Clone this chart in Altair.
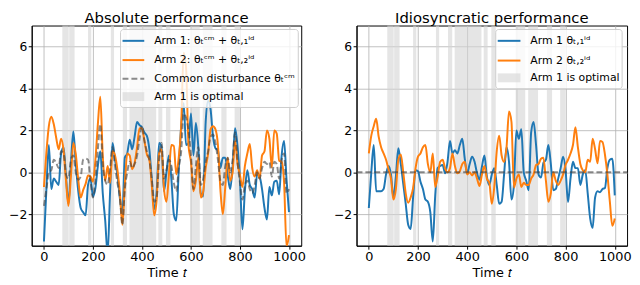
import altair as alt
import pandas as pd

# ---- data (t = 0, 10, ..., 1000) ----
t = list(range(0, 1001, 10))

common = [-1.6, -0.8, 0.0, 0.1, 0.6, 0.45, 0.2, 1.0, 0.9, -0.1,
          -0.3, 0.6, 0.8, 0.0, -0.35, -0.2, 0.6, 0.65, 0.6, -0.4,
          -1.2, -0.3, 1.1, 2.3, 0.4, -0.4, -0.6, 0.2, 1.2, 0.3,
          -0.5, -1.2, -2.5, -0.8, 0.0, 0.5, 0.2, 0.4, 0.8, 1.6,
          2.2, 1.5, 1.0, 0.6, -0.3, -1.4, -1.2, 0.6, 1.4, -0.3,
          0.1, 0.6, 0.3, -0.5, -0.9, 0.2, 1.0, 2.8, 2.6, 2.0,
          0.8, -0.8, 0.3, 1.2, -0.6, -0.3, 0.5, 1.0, 1.7, 1.8,
          1.4, 0.6, -0.4, -0.6, 0.3, 0.7, 0.0, 0.6, 1.9, 0.5,
          -0.5, -1.3, -0.6, -0.4, -0.8, -1.0, -0.6, 0.0, -0.3, 0.2,
          0.5, 0.4, 0.5, -0.2, 0.5, 0.4, -0.3, 0.6, 0.9, -1.0,
          -0.8]

idio1 = [-1.7, 0.0, 1.3, -0.9, -0.9, -0.9, -0.8, -0.1, 0.3, -0.1,
         -1.2, -0.2, 1.15, 0.4, -0.55, -1.5, -2.5, -2.7, -1.2, 0.1,
         0.05, -0.45, -0.8, -1.3, -1.4, -1.9, -3.3, -1.1, 0.2, 0.3,
         0.35, -0.05, 0.5, 1.5, 0.9, 1.05, 0.9, 1.3, 1.6, 0.65,
         -0.05, 0.4, 0.74, 0.5, -0.05, -0.35, 0.28, 0.8, -0.2, -0.6,
         -0.1, 0.2, -0.6, -1.5, -1.4, -0.1, 1.2, 0.5, -1.3, -0.6,
         2.0, 1.6, 2.05, 0.0, -0.4, -0.85, 1.9, 2.4, 1.3, -0.1,
         -0.25, 0.45, 0.6, 1.3, 0.4, -0.85, -0.8, -0.3, 0.2, 0.74,
         0.1, -1.42, -0.3, 0.5, 0.2, 0.2, -0.6, -0.1, 0.1, -1.0,
         -2.2, -2.65, -1.2, -0.9, -0.95, -0.8, -0.75, 0.2, 0.6, 0.65,
         -1.1]

idio2 = [0.9, 1.75, 2.2, 2.55, 1.7, 1.2, 0.9, 0.6, 0.15, -0.3,
         -1.3, -0.8, 0.6, 0.85, 0.0, -1.0, -1.45, -1.2, -0.75, 0.2,
         0.75, 0.9, 1.2, 1.3, 0.4, 0.0, 0.9, -0.7, -0.2, 0.5,
         0.6, 0.2, 0.0, 0.2, 0.9, 0.3, -0.05, 0.05, 0.4, 0.5,
         -0.1, 0.0, -0.15, 0.0, -0.3, -0.65, -0.1, 0.3, -0.3, -0.5,
         -1.5, -0.7, 1.0, 1.75, 0.8, 0.5, 1.2, 2.9, 2.4, -0.73,
         -0.3, -0.1, -0.7, -0.5, -0.6, -0.6, -0.3, -0.1, 0.35, 0.4,
         0.65, 0.7, -0.4, -1.4, -1.0, 0.0, -0.4, -0.6, -0.4, -0.1,
         0.36, 0.6, 0.9, 1.3, 2.15, 1.2, 0.4, 0.1, 0.0, 0.6,
         0.5, 1.6, 1.1, 0.43, 1.5, 1.45, 0.85, -0.1, -1.4, -2.55,
         -2.2]

band_start = [75, 103, 180, 273, 322, 349, 467, 498, 597, 648, 724, 778]
band_end = [101, 125, 193, 286, 339, 458, 483, 516, 636, 688, 745, 800]

x_ticks = [0, 200, 400, 600, 800, 1000]
y_ticks = [-2, 0, 2, 4, 6]

BLUE = "#1f77b4"
ORANGE = "#ff7f0e"
W_LEFT, W_RIGHT, H = 273, 274, 223
FONT = "DejaVu Sans"

arm1_abs = [c + a for c, a in zip(common, idio1)]
arm2_abs = [c + a for c, a in zip(common, idio2)]

xscale = alt.Scale(domain=[-50, 1050], nice=False, zero=False)
yscale = alt.Scale(domain=[-3.5, 7], nice=False, zero=False)
xaxis = alt.Axis(values=x_ticks, title="Time 𝑡", grid=True, format="d")
yaxis = alt.Axis(values=y_ticks, title=None, grid=True, format="d", labelFontSize=12.5)

bands = pd.DataFrame({"start": band_start, "end": band_end})


def band_layer():
    return alt.Chart(bands).mark_rect(fill="#d3d3d3", opacity=0.6).encode(
        x=alt.X("start:Q", scale=xscale, axis=xaxis),
        x2="end:Q",
        y=alt.value(0),
        y2=alt.value(H),
    )


def line_layer(values, color, dash=None, opacity=1.0):
    df = pd.DataFrame({"t": t, "v": values})
    kw = dict(color=color, strokeWidth=2, clip=True, interpolate="monotone", opacity=opacity)
    if dash:
        kw["strokeDash"] = dash
    return alt.Chart(df).mark_line(**kw).encode(
        x=alt.X("t:Q", scale=xscale, axis=xaxis),
        y=alt.Y("v:Q", scale=yscale, axis=yaxis),
    )


one = alt.Data(values=[{}])


def legend(box, entries, handle_x, text_x):
    x0, x1, y0, y1 = box
    layers = [alt.Chart(one).mark_rect(fill="white", fillOpacity=0.8, stroke="#cccccc",
                                      strokeWidth=1, cornerRadius=3).encode(
        x=alt.value(x0), x2=alt.value(x1), y=alt.value(y0), y2=alt.value(y1))]
    for kind, color, label, y in entries:
        if kind == "patch":
            layers.append(alt.Chart(one).mark_rect(fill="#d3d3d3", opacity=0.6).encode(
                x=alt.value(handle_x[0]), x2=alt.value(handle_x[1]),
                y=alt.value(y - 4.5), y2=alt.value(y + 4.5)))
        else:
            kw = dict(color=color, strokeWidth=2)
            if kind == "dash":
                kw["strokeDash"] = [6, 3]
                kw["opacity"] = 0.6
            layers.append(alt.Chart(one).mark_rule(**kw).encode(
                x=alt.value(handle_x[0]), x2=alt.value(handle_x[1]), y=alt.value(y)))
        layers.append(alt.Chart(one).mark_text(text=label, align="left", baseline="middle",
                                               fontSize=11, font=FONT, color="black").encode(
            x=alt.value(text_x), y=alt.value(y)))
    return layers


left_leg = legend((90, 270, 4, 83), [
    ("line", BLUE, "Arm 1: θₜᶜᵐ + θₜ,₁ⁱᵈ", 15.5),
    ("line", ORANGE, "Arm 2: θₜᶜᵐ + θₜ,₂ⁱᵈ", 35),
    ("dash", "#404040", "Common disturbance θₜᶜᵐ", 54),
    ("patch", None, "Arm 1 is optimal", 72),
], (92, 114), 124)

right_leg = legend((141, 269, 4, 64), [
    ("line", BLUE, "Arm 1 θₜ,₁ⁱᵈ", 15.5),
    ("line", ORANGE, "Arm 2 θₜ,₂ⁱᵈ", 35.5),
    ("patch", None, "Arm 1 is optimal", 53),
], (143, 166), 176)

title_kw = dict(fontSize=15, font=FONT, fontWeight="normal", color="black", offset=0)

left = alt.layer(
    band_layer(),
    line_layer(arm1_abs, BLUE),
    line_layer(arm2_abs, ORANGE),
    line_layer(common, "#404040", dash=[6, 3], opacity=0.6),
    *left_leg,
).properties(width=W_LEFT, height=H, title=alt.TitleParams("Absolute performance", **title_kw))

zero_df = pd.DataFrame({"z": [0]})
zero_line = alt.Chart(zero_df).mark_rule(color="#404040", strokeWidth=2, strokeDash=[6, 3],
                                         opacity=0.6).encode(
    y=alt.Y("z:Q", scale=yscale, axis=yaxis), x=alt.value(0), x2=alt.value(W_RIGHT))

right = alt.layer(
    band_layer(),
    line_layer(idio1, BLUE),
    line_layer(idio2, ORANGE),
    zero_line,
    *right_leg,
).properties(width=W_RIGHT, height=H,
             title=alt.TitleParams("Idiosyncratic performance", **title_kw))

chart = alt.hconcat(left, right, spacing=56, bounds="flush").properties(
    padding={"left": 0, "top": 0, "right": 0, "bottom": 0}
).configure_view(stroke="black", strokeWidth=1).configure_axis(
    labelFont=FONT, labelFontSize=13, labelColor="black", titleFont=FONT, titleFontSize=13,
    titleFontWeight="normal", titleColor="black", tickColor="black", tickSize=3.5,
    domainColor="black", domainWidth=1, gridColor="#b0b0b0", gridWidth=0.8,
    labelPadding=1.5, titlePadding=3,
)

chart.save("out.html", embed_options={"renderer": "svg", "actions": False})
